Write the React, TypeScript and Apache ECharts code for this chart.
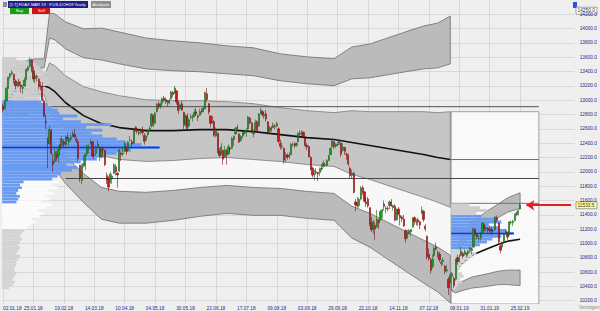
import React, { useEffect, useRef } from "react";
import * as echarts from "echarts";

// ---------- axis labels ----------
const tickLabels = ["02.01.18","25.01.18","19.02.18","14.03.18","10.04.18","04.05.18","30.05.18","22.06.18","17.07.18","09.08.18","03.09.18","26.09.18","22.10.18","14.11.18","07.12.18","08.01.19","31.01.19","25.02.19"];
const TICK_STEP = 17;
const SLOT_COUNT = 320;
const yLabels = [10200,10400,10600,10800,11000,11200,11400,11600,11800,12000,12200,12400,12600,12800,13000,13200,13400,13600,13800,14000,14200];

// ---------- candles [open, high, low, close] ----------
const ohlc2018 = [
[12920,12950,12840,12871],[12880,13010,12870,12978],[12990,13180,12980,13167],[13170,13330,13160,13320],[13330,13380,13290,13368],[13370,13420,13350,13386],[13360,13370,13230,13282],[13270,13290,13150,13203],[13210,13260,13180,13245],[13260,13300,13190,13201],[13210,13260,13110,13184],[13170,13220,13090,13183],[13200,13320,13190,13281],[13290,13440,13280,13434],[13420,13480,13400,13463],[13470,13600,13460,13560],[13560,13580,13390,13415],[13410,13470,13260,13298],[13300,13370,13240,13340],[13330,13360,13260,13324],[13290,13310,13150,13198],[13200,13260,13140,13189],
[13190,13250,12980,13004],[12990,13020,12760,12785],[12700,12800,12600,12687],[12450,12480,12050,12393],[12400,12640,12380,12590],[12570,12600,12240,12260],[12150,12250,12000,12107],[12150,12330,12120,12282],[12250,12290,12150,12196],[12230,12360,12130,12339],[12380,12470,12310,12346],[12370,12500,12340,12452],[12420,12450,12340,12385],[12380,12510,12360,12488],[12480,12540,12430,12470],[12420,12480,12370,12461],[12460,12520,12430,12483],[12500,12570,12480,12528],[12520,12600,12470,12491],[12460,12490,12400,12436],
[12420,12450,12150,12190],[12090,12100,11860,11914],[11880,12110,11830,12090],[12100,12220,12060,12113],[12080,12260,12020,12245],[12250,12380,12210,12355],[12330,12380,12260,12346],[12400,12460,12380,12418],[12420,12430,12200,12221],[12240,12300,12180,12237],[12260,12370,12220,12345],[12350,12440,12330,12390],[12330,12350,12150,12217],[12210,12330,12190,12307],[12320,12350,12260,12309],[12300,12310,12080,12100],[11950,11990,11830,11887],[11900,11940,11730,11787],[11860,12000,11840,11970],[11900,11970,11830,11940],[11980,12120,11970,12096],
[12070,12110,11950,12002],[11980,12000,11780,11957],[12010,12320,12000,12305],[12260,12280,12150,12241],[12250,12350,12220,12261],[12290,12420,12270,12397],[12340,12360,12240,12293],[12300,12430,12280,12415],[12440,12500,12420,12442],[12420,12450,12350,12391],[12400,12600,12390,12585],[12610,12640,12560,12590],[12600,12630,12530,12567],[12550,12580,12510,12540],[12560,12610,12520,12572],[12580,12630,12510,12550],[12510,12540,12380,12422],[12440,12520,12420,12500],[12520,12600,12490,12580],[12590,12640,12570,12612],
[12640,12820,12620,12802],[12780,12800,12630,12690],[12680,12840,12660,12820],[12840,12960,12830,12948],[12950,12980,12880,12912],[12920,12970,12880,12943],[12960,13040,12940,13022],[13030,13060,12980,13001],[13010,13040,12950,12978],[12980,13000,12920,12970],[12960,13020,12940,12996],[13020,13130,13010,13115],[13110,13130,13040,13077],[13100,13200,13090,13169],[13130,13140,12940,12976],[12980,12990,12810,12855],[12880,12960,12860,12938],[12950,12990,12850,12863],[12830,12840,12600,12666],[12650,12800,12630,12783],[12780,12820,12590,12605],
[12640,12760,12620,12724],[12760,12810,12730,12771],[12760,12800,12700,12787],[12790,12870,12760,12830],[12840,12890,12780,12811],[12780,12800,12710,12767],[12790,12880,12780,12842],[12850,12890,12810,12842],[12850,12920,12830,12890],[12880,13120,12870,13107],[13090,13170,12980,13010],[12950,12960,12800,12834],[12780,12790,12620,12677],[12700,12780,12670,12695],[12700,12720,12490,12512],[12500,12620,12480,12580],[12540,12550,12260,12270],[12280,12330,12200,12228],[12250,12400,12230,12348],[12300,12310,12100,12177],[12210,12360,12190,12306],
[12290,12320,12100,12238],[12250,12380,12240,12349],[12330,12350,12280,12317],[12330,12490,12320,12465],[12450,12510,12360,12496],[12530,12620,12520,12610],[12620,12660,12590,12609],[12530,12540,12400,12417],[12440,12510,12420,12492],[12500,12560,12470,12541],[12540,12580,12520,12561],[12560,12610,12490,12580],[12600,12780,12590,12765],[12750,12770,12660,12686],[12680,12700,12540,12561],[12530,12590,12480,12548],[12580,12730,12570,12689],[12700,12720,12550,12579],[12640,12820,12630,12809],[12820,12890,12800,12860],[12840,12860,12770,12798],[12780,12830,12740,12805],
[12810,12860,12700,12737],[12700,12710,12520,12546],[12570,12640,12540,12616],[12600,12640,12560,12598],[12620,12690,12610,12648],[12640,12670,12590,12633],[12640,12700,12620,12676],[12600,12620,12400,12424],[12400,12450,12310,12358],[12360,12410,12320,12358],[12330,12340,12110,12163],[12200,12280,12130,12237],[12230,12260,12170,12210],[12230,12270,12180,12224],[12240,12400,12230,12384],[12380,12410,12350,12385],[12390,12420,12330,12366],[12370,12410,12350,12394],[12420,12550,12410,12538],[12540,12580,12500,12527],[12520,12580,12500,12562],[12550,12560,12470,12494],[12470,12480,12340,12364],
[12370,12400,12300,12346],[12350,12370,12200,12210],[12200,12220,12020,12040],[12050,12070,11920,11955],[11960,12030,11880,11960],[12000,12050,11960,11987],[11990,12000,11870,11970],[11990,12060,11940,12032],[12040,12110,12010,12055],[12070,12160,12060,12124],[12100,12130,12070,12096],[12090,12180,12070,12157],[12160,12240,12150,12219],[12240,12340,12230,12327],[12350,12460,12340,12431],[12420,12430,12320,12350],[12360,12400,12330,12374],[12380,12420,12350,12385],[12400,12460,12370,12435],[12400,12410,12210,12247],
[12300,12400,12280,12346],[12340,12350,12240,12287],[12250,12270,12170,12244],[12230,12250,12080,12111],[12050,12070,11900,11947],[11950,12030,11900,11977],[11980,12000,11700,11712],[11580,11620,11450,11539],[11570,11650,11500,11524],[11530,11640,11500,11614],[11620,11800,11600,11777],[11780,11810,11680,11716],[11720,11730,11570,11589],[11580,11640,11510,11553],[11620,11650,11500,11524],[11500,11510,11240,11274],[11280,11370,11160,11191],[11200,11330,11130,11307],[11250,11300,11050,11201],[11230,11470,11220,11336],[11320,11340,11200,11287],[11330,11470,11320,11447],
[11450,11480,11350,11468],[11550,11600,11460,11519],[11480,11520,11420,11495],[11490,11520,11450,11484],[11530,11600,11480,11579],[11580,11620,11510,11527],[11500,11540,11460,11529],[11520,11550,11310,11325],[11330,11490,11320,11472],[11480,11510,11390,11412],[11390,11410,11250,11354],[11370,11390,11300,11341],[11340,11400,11230,11244],[11180,11200,11010,11066],[11080,11190,11070,11138],[11140,11200,11120,11180],[11160,11200,11100,11192],[11230,11370,11220,11354],[11360,11380,11260,11309],[11300,11340,11250,11298],[11330,11360,11250,11298],[11300,11320,11200,11257],
[11430,11520,11410,11465],[11450,11460,11300,11335],[11240,11270,11170,11200],[11100,11110,10780,10811],[10850,10930,10760,10788],[10760,10800,10580,10622],[10680,10850,10650,10780],[10830,10960,10810,10931],[10950,11010,10900,10924],[10870,10900,10800,10865],[10850,10880,10740,10772],[10720,10770,10680,10740],[10750,10800,10700,10766],[10680,10700,10570,10611],[10620,10700,10590,10634],[10500,10530,10280,10381],[10460,10590,10440,10558]
];
const ohlc2019 = [
[10540,10600,10350,10580],[10510,10540,10380,10416],[10500,10790,10480,10767],[10800,10840,10700,10747],[10760,10850,10730,10804],[10830,10950,10820,10893],[10860,10880,10790,10821],[10850,10920,10830,10887],[10850,10870,10800,10856],[10860,10910,10820,10891],[10900,10960,10870,10931],[10900,10940,10850,10919],[10950,11220,10940,11205],[11190,11210,11110,11136],[11120,11150,11060,11090],[11070,11120,11030,11071],[11080,11160,11040,11130],[11150,11300,11140,11282],[11260,11280,11170,11210],[11200,11250,11170,11218],[11210,11230,11150,11181],[11200,11250,11140,11173],
[11190,11230,11120,11180],[11170,11200,11130,11176],[11190,11380,11180,11368],[11360,11390,11300,11324],[11280,11290,11000,11022],[10960,10980,10860,10906],[10950,11030,10920,11014],[11030,11140,11010,11127],[11140,11200,11130,11167],[11150,11170,11050,11089],[11120,11310,11110,11300],[11290,11320,11260,11299],[11290,11330,11240,11309],[11320,11420,11310,11402],[11400,11450,11380,11423],[11420,11470,11390,11458],[11480,11560,11470,11533]
];
const START_2019 = 251;

// ---------- yearly VWAP and standard deviation (sampled) ----------
const bandIdx2018 = [0,3,6,12,18,23,26,29,35,45,55,65,80,95,110,125,140,155,170,185,195,205,215,225,235,243,250];
const vwap2018 = [12868,13007,13119,13174,13202,13202,13174,13119,12965,12785,12673,12618,12576,12576,12590,12590,12562,12520,12478,12451,12409,12367,12325,12284,12242,12200,12172];
const sd2018 = [28,70,111,125,125,125,348,362,376,404,445,445,431,418,404,390,390,376,376,376,445,473,515,557,598,626,668];
const bandIdx2019 = [251,253,256,262,270,277,282,289];
const vwap2019 = [10502,10599,10711,10836,10920,10989,11031,11059];
const sd2019 = [56,97,125,153,174,188,202,216];

// ---------- volume profiles (40-point bins, relative volume) ----------
const PROFILE_STEP = 40;
const profile2018Low = 10360;
const profile2018Vol = [4,6,7,6,7,8,7,7,8,8,9,10,8,9,10,9,10,11,10,11,12,
14,16,19,17,21,23,20,25,28,22,27,24,29,26,31,28,32,
28,31,33,39,42,36,44,53,58,64,72,88,78,69,64,56,50,56,47,61,44,34,42,32,31,28,25,22,
21,23,20,18,22,25,27,26,24,26,23,21,19,14,8];
const profile2018BlueTail = [8,9,10,8,9,11,10,12];   // blue share of the bins 11560 ... 11840
const blueTailFrom2018 = 11560;
const valueArea2018 = [11880, 13000];
const lowVolumeZone2018 = 11200;
const profile2019Low = 10360;
const profile2019Vol = [3,4,6,5,7,6,4,5,6,8,10,12,14,11,12,16,20,23,28,35,31,27,21,28,25,17,14,20,16,10];
const valueArea2019 = [10920, 11400];

// ---------- levels ----------
const poc2018 = 12340;
const poc2019 = 11140;
const levels2018 = [12910, 11907];
const levels2019 = [12172, 11560];
const box2019Top = 12840;
const lastPrice = 11533.5;
const topMarker = 14250;

const Y_MIN = 10154;
const Y_MAX = 14400;
const LEVEL_END = 299.5;
const AXIS_COLOR = "#26268a";
const FONT = "Liberation Sans";
const TICK_FONT = 4.8;

export default function App() {
  const ref = useRef<HTMLDivElement>(null);
  useEffect(() => {
    document.body.style.margin = "0";
    const chart = echarts.init(ref.current!, null, { renderer: "svg" });
    const tickIdx = tickLabels.map((_, i) => i * TICK_STEP);

    const line = (V: number[], SD: number[], k: number) => V.map((v, i) => v + k * SD[i]);
    type Poly = { xs: number[]; a: number[]; b: number[]; fill: string; stroke?: string };
    const polys: Poly[] = [
      { xs: bandIdx2018, a: line(vwap2018, sd2018, -1), b: line(vwap2018, sd2018, -2), fill: "#f7f7f7" },
      { xs: bandIdx2018, a: line(vwap2018, sd2018, 3), b: line(vwap2018, sd2018, 2), fill: "#bbbbbb", stroke: "#6c6c6c" },
      { xs: bandIdx2018, a: line(vwap2018, sd2018, 1), b: line(vwap2018, sd2018, -1), fill: "#c6c6c6", stroke: "#7a7a7a" },
      { xs: bandIdx2018, a: line(vwap2018, sd2018, -2), b: line(vwap2018, sd2018, -3), fill: "#bbbbbb", stroke: "#6c6c6c" },
      { xs: [START_2019 - 0.5, LEVEL_END], a: [box2019Top, box2019Top], b: [Y_MIN, Y_MIN], fill: "#f9f9f9", stroke: "#8a8a8a" },
      { xs: bandIdx2019, a: line(vwap2019, sd2019, 3), b: line(vwap2019, sd2019, 2), fill: "#bbbbbb", stroke: "#6c6c6c" },
      { xs: bandIdx2019, a: line(vwap2019, sd2019, -2), b: line(vwap2019, sd2019, -3), fill: "#bbbbbb", stroke: "#6c6c6c" },
    ];

    const BLUE = "#6b9bf0";
    const profileColors = ["#d3d3d3", "#fbfbfb", BLUE, "#cdcdcd"];
    const kindOf = (low: number, va: number[], whiteFrom: number) =>
      low >= va[1] ? 3 : low >= va[0] ? 2 : low >= whiteFrom ? 1 : 0;
    const profileData = [
      ...profile2018Vol.map((v, i) => {
        const low = profile2018Low + i * PROFILE_STEP;
        const tailIdx = Math.round((low - blueTailFrom2018) / PROFILE_STEP);
        const tail = tailIdx >= 0 && tailIdx < profile2018BlueTail.length ? profile2018BlueTail[tailIdx] : 0;
        return [-0.5, low, v, kindOf(low, valueArea2018, lowVolumeZone2018), tail];
      }),
      ...profile2019Vol.map((v, i) => {
        const low = profile2019Low + i * PROFILE_STEP;
        return [START_2019 - 0.5, low, v, kindOf(low, valueArea2019, valueArea2019[0]), 0];
      }),
    ];

    const candleData = [...ohlc2018, ...ohlc2019].map((r, i) => [i, r[0], r[3], r[2], r[1]]);

    const hLine = (name: string, x0: number, x1: number, p: number, color: string, width: number, z = 4) => ({
      type: "line", name, z, silent: true, symbol: "none",
      data: [[x0, p], [x1, p]], lineStyle: { color, width },
    });

    const option: any = {
      animation: false,
      backgroundColor: "#efefef",
      grid: { left: 2, right: 24, top: 0, bottom: 6 },
      xAxis: {
        type: "value", min: -0.5, max: SLOT_COUNT - 0.5,
        axisLine: { show: false },
        axisTick: { show: false, customValues: tickIdx },
        axisLabel: {
          customValues: tickIdx, color: AXIS_COLOR, fontSize: TICK_FONT, fontFamily: FONT, margin: 2,
          formatter: (v: number) => tickLabels[Math.round(v / TICK_STEP)] ?? "",
          showMinLabel: true, hideOverlap: false, alignMinLabel: "left",
        },
        splitLine: { show: true, lineStyle: { color: "#d8d8d8", width: 1 } },
      },
      yAxis: {
        type: "value", position: "right", min: Y_MIN, max: Y_MAX,
        axisLine: { show: false },
        axisTick: { show: false, customValues: yLabels },
        axisLabel: {
          customValues: yLabels, color: AXIS_COLOR, fontSize: TICK_FONT, fontFamily: FONT, margin: 5,
          formatter: (v: number) => v.toFixed(1),
        },
        splitLine: { show: true, lineStyle: { color: "#d8d8d8", width: 1 } },
      },
      series: [
        {
          type: "custom", name: "bands", z: 1, silent: true, clip: true,
          encode: { x: 0, y: 1 },
          data: polys.map((_, i) => [0, 12000, i]),
          renderItem: (params: any, api: any) => {
            const p = polys[params.dataIndex];
            const top = p.xs.map((x, k) => api.coord([x, p.a[k]]));
            const bot = p.xs.map((x, k) => api.coord([x, p.b[k]])).reverse();
            return {
              type: "polygon",
              shape: { points: top.concat(bot) },
              style: { fill: p.fill, stroke: p.stroke || "none", lineWidth: 0.8 },
            };
          },
        },
        hLine("lvl1", 20, LEVEL_END, levels2018[0], "#505050", 1),
        hLine("lvl2", 35, LEVEL_END, levels2018[1], "#454545", 1),
        hLine("lvl3", START_2019 - 0.5, LEVEL_END, levels2019[0], "#707070", 1),
        hLine("lvl4", START_2019 - 0.5, LEVEL_END, levels2019[1], "#707070", 1),
        {
          type: "line", name: "vwap2018", z: 3, symbol: "none", silent: true,
          data: bandIdx2018.map((x, i) => [x, vwap2018[i]]),
          lineStyle: { color: "#111", width: 1.6 },
        },
        {
          type: "line", name: "vwap2019", z: 3, symbol: "none", silent: true,
          data: bandIdx2019.map((x, i) => [x, vwap2019[i]]),
          lineStyle: { color: "#111", width: 1.6 },
        },
        {
          type: "custom", name: "profiles", z: 5, silent: true, clip: true,
          encode: { x: 0, y: 1 },
          data: profileData,
          renderItem: (params: any, api: any) => {
            const x0 = api.value(0), low = api.value(1), vol = api.value(2), kind = api.value(3), tail = api.value(4);
            const a = api.coord([x0, low + PROFILE_STEP]);
            const b = api.coord([x0 + vol, low]);
            const children: any[] = [{
              type: "rect",
              shape: { x: a[0], y: a[1], width: b[0] - a[0], height: b[1] - a[1] },
              style: { fill: profileColors[kind] },
            }];
            if (tail > 0) {
              const c = api.coord([x0 + tail, low]);
              children.push({
                type: "rect",
                shape: { x: a[0], y: a[1], width: c[0] - a[0], height: c[1] - a[1] },
                style: { fill: BLUE },
              });
            }
            return { type: "group", children };
          },
        },
        hLine("poc2018", -0.5, -0.5 + Math.max(...profile2018Vol), poc2018, "#1a36c8", 1.5, 6),
        hLine("poc2019", START_2019 - 0.5, START_2019 - 0.5 + Math.max(...profile2019Vol), poc2019, "#1a36c8", 1.5, 6),
        {
          type: "candlestick", name: "FDAX", z: 8, barWidth: 1.7, silent: true,
          encode: { x: 0, y: [1, 2, 3, 4] },
          data: candleData,
          itemStyle: {
            color: "#14a014", color0: "#c81818",
            borderColor: "#1f5e1f", borderColor0: "#7a1010", borderWidth: 0.6,
          },
          markLine: {
            silent: true, symbol: ["arrow", "none"], symbolSize: 8,
            label: { show: false },
            lineStyle: { color: "#e02020", width: 2, type: "solid" },
            data: [[{ coord: [292.5, lastPrice] }, { coord: [317.5, lastPrice] }]],
          },
        },
      ],
    };
    chart.setOption(option);

    const yLast = chart.convertToPixel({ yAxisIndex: 0 }, lastPrice) as number;
    const yTop = chart.convertToPixel({ yAxisIndex: 0 }, topMarker) as number;
    const box = (y: number, label: string, fill: string) => ({
      type: "group", x: 576, y: y - 3.5, z: 50,
      children: [
        { type: "rect", shape: { x: 0, y: 0, width: 21, height: 7 }, style: { fill, stroke: "#8c8c8c", lineWidth: 0.8 } },
        { type: "text", x: 1.5, y: 1.2, style: { text: label, fontSize: TICK_FONT, fontFamily: FONT, fill: "#333" } },
      ],
    });
    chart.setOption({
      graphic: [
        { type: "rect", x: 3, y: 2, shape: { width: 4, height: 5 }, style: { fill: "#8a8aa0" } },
        { type: "rect", x: 8, y: 1, shape: { width: 80, height: 7 }, style: { fill: "#1e1e8c" } },
        { type: "text", x: 9.5, y: 2.2, style: { text: "[1.T] FDAX MAR 19 · F.US-DOH19 Yearly", fontSize: 4.1, fontFamily: FONT, fill: "#fff" } },
        { type: "rect", x: 91, y: 1, shape: { width: 20, height: 7 }, style: { fill: "#8e8e8e" } },
        { type: "text", x: 92.5, y: 2.2, style: { text: "Analysen", fontSize: 4.1, fontFamily: FONT, fill: "#fff" } },
        { type: "rect", x: 10, y: 8, shape: { width: 19, height: 6 }, style: { fill: "#14a014" } },
        { type: "text", x: 16, y: 8.8, style: { text: "Buy", fontSize: 4.1, fontFamily: FONT, fill: "#fff" } },
        { type: "rect", x: 32, y: 8, shape: { width: 18, height: 6 }, style: { fill: "#d01414" } },
        { type: "text", x: 38, y: 8.8, style: { text: "Sell", fontSize: 4.1, fontFamily: FONT, fill: "#fff" } },
        { type: "rect", x: 573, y: 2, shape: { width: 4, height: 6 }, style: { fill: "#2b4fe0" } },
        box(yTop, "14250.0", "#ffffff"),
        box(yLast, "11533.5", "#ffff99"),
        { type: "text", x: 579, y: 305, style: { text: "Verzögert", fontSize: 4.8, fontFamily: FONT, fill: "#888" } },
      ],
    });
    return () => chart.dispose();
  }, []);
  return <div ref={ref} style={{ width: 600, height: 311, background: "#efefef" }} />;
}
